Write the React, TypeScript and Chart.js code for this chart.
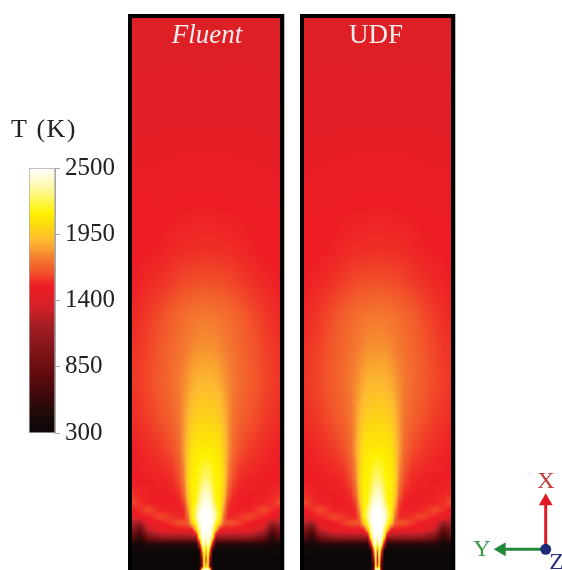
import React, { useEffect, useRef } from "react";
import { Chart, registerables } from "chart.js";

Chart.register(...registerables);

const SERIF = '"Liberation Serif", serif';

// Colour scale
const colorTicks = [300, 850, 1400, 1950, 2500];
const stopT = [300, 494, 770, 1186, 1324, 1400, 1520, 1640, 1750, 1830, 1900, 2020, 2126, 2350, 2500];
const stopRGB = [
  [10, 8, 8], [38, 9, 10], [94, 10, 12], [161, 30, 36], [207, 32, 40], [221, 31, 38], [238, 28, 37],
  [242, 85, 42], [244, 122, 48], [249, 160, 48], [253, 185, 49], [253, 216, 18], [255, 242, 0],
  [255, 249, 176], [255, 255, 255],
];

// Field grid: radial offsets and axial stations
const radial = [0, 2, 4, 7, 10, 14, 18, 22, 27, 34, 44, 58, 66, 74];
const axial = [552, 470, 410, 360, 320, 287, 253, 220, 187, 153, 120, 90, 75, 67, 60, 53, 47, 40, 33, 26, 19, 10, 4, 0];

const fluentT = [
  [1395, 1395, 1395, 1395, 1396, 1397, 1398, 1400, 1400, 1400, 1400, 1400, 1400, 1400],
  [1430, 1430, 1430, 1430, 1430, 1430, 1430, 1430, 1430, 1430, 1430, 1428, 1426, 1425],
  [1482, 1482, 1482, 1482, 1481, 1481, 1480, 1480, 1480, 1478, 1475, 1470, 1467, 1465],
  [1525, 1525, 1525, 1525, 1524, 1524, 1523, 1522, 1521, 1518, 1515, 1510, 1507, 1505],
  [1560, 1560, 1560, 1560, 1558, 1556, 1554, 1552, 1550, 1542, 1530, 1520, 1517, 1515],
  [1630, 1630, 1630, 1628, 1627, 1625, 1620, 1615, 1605, 1590, 1570, 1545, 1535, 1525],
  [1745, 1745, 1745, 1742, 1738, 1730, 1720, 1710, 1695, 1670, 1630, 1585, 1560, 1545],
  [1805, 1805, 1803, 1800, 1795, 1780, 1765, 1745, 1725, 1695, 1655, 1605, 1580, 1565],
  [1900, 1900, 1898, 1895, 1880, 1860, 1820, 1785, 1750, 1710, 1665, 1615, 1590, 1575],
  [2000, 2000, 1996, 1990, 1980, 1960, 1890, 1810, 1730, 1680, 1640, 1590, 1570, 1550],
  [2100, 2100, 2098, 2095, 2085, 2060, 1960, 1830, 1700, 1625, 1585, 1550, 1535, 1525],
  [2280, 2270, 2240, 2170, 2130, 2110, 2000, 1760, 1620, 1550, 1530, 1522, 1520, 1520],
  [2400, 2390, 2360, 2240, 2140, 2105, 1950, 1680, 1550, 1525, 1522, 1525, 1540, 1560],
  [2470, 2460, 2430, 2310, 2170, 2105, 1880, 1600, 1530, 1522, 1522, 1530, 1560, 1620],
  [2500, 2495, 2480, 2400, 2260, 2110, 1800, 1550, 1525, 1525, 1530, 1620, 1560, 1500],
  [2500, 2500, 2495, 2450, 2300, 2100, 1700, 1550, 1540, 1570, 1620, 1530, 1500, 1400],
  [2500, 2500, 2490, 2420, 2200, 1950, 1650, 1640, 1640, 1580, 1520, 1460, 1150, 1250],
  [2500, 2500, 2480, 2300, 1900, 1500, 1500, 1500, 1500, 1490, 1470, 1300, 800, 1000],
  [2400, 2490, 2450, 2100, 1200, 1150, 1150, 1150, 1150, 1150, 1130, 950, 550, 800],
  [2200, 2450, 2300, 1300, 500, 500, 500, 500, 500, 500, 500, 480, 380, 420],
  [1800, 2350, 1700, 330, 325, 325, 325, 325, 325, 325, 325, 325, 325, 330],
  [1500, 2250, 1000, 320, 320, 320, 320, 320, 320, 320, 320, 320, 320, 320],
  [1800, 2150, 900, 320, 320, 320, 320, 320, 320, 320, 320, 320, 320, 320],
  [2500, 2500, 2350, 320, 320, 320, 320, 320, 320, 320, 320, 320, 320, 320],
];
const udfNeckT = [
  [1700, 2300, 1600, 330, 325, 325, 325, 325, 325, 325, 325, 325, 325, 330],
  [1400, 2200, 950, 320, 320, 320, 320, 320, 320, 320, 320, 320, 320, 320],
  [1600, 2100, 700, 320, 320, 320, 320, 320, 320, 320, 320, 320, 320, 320],
  [2500, 2400, 900, 320, 320, 320, 320, 320, 320, 320, 320, 320, 320, 320],
];
const udfT = [...fluentT.slice(0, -4), ...udfNeckT];

// Coordinate triad
const triadXAxis = [{ x: 0, y: 0 }, { x: 0, y: 48 }];
const triadYAxis = [{ x: 0, y: 0 }, { x: -44, y: 0 }];
const triadOrigin = [{ x: 0, y: 0 }];

function tempColor(t: number): number[] {
  if (t <= stopT[0]) return stopRGB[0];
  for (let i = 1; i < stopT.length; i++) {
    if (t <= stopT[i]) {
      const f = (t - stopT[i - 1]) / (stopT[i] - stopT[i - 1]);
      return stopRGB[i].map((c, k) => stopRGB[i - 1][k] + (c - stopRGB[i - 1][k]) * f);
    }
  }
  return stopRGB[stopRGB.length - 1];
}

function fieldPoints(table: number[][]) {
  const cols = [...radial.slice(1).reverse().map((d, i) => ({ x: -d, c: radial.length - 1 - i })), ...radial.map((d, i) => ({ x: d, c: i }))];
  const pts: { x: number; y: number; t: number }[] = [];
  axial.forEach((y, r) => cols.forEach((col) => pts.push({ x: col.x, y, t: table[r][col.c] })));
  return pts;
}

function locate(arr: number[], v: number) {
  let i = 0;
  while (i < arr.length - 2 && arr[i + 1] < v) i++;
  const f = Math.max(0, Math.min(1, (v - arr[i]) / (arr[i + 1] - arr[i])));
  return [i, f];
}

const fieldPlugin = {
  id: "field",
  beforeDatasetsDraw(chart: any) {
    const meta = chart.getDatasetMeta(0);
    const raw = chart.data.datasets[0].data;
    const nx = radial.length * 2 - 1;
    const ny = axial.length;
    const xs: number[] = [];
    const ys: number[] = [];
    for (let i = 0; i < nx; i++) xs.push(meta.data[i].x);
    for (let j = 0; j < ny; j++) ys.push(meta.data[j * nx].y);
    const a = chart.chartArea;
    const x0 = Math.round(a.left), y0 = Math.round(a.top);
    const w = Math.round(a.right - a.left), h = Math.round(a.bottom - a.top);
    const img = chart.ctx.createImageData(w, h);
    for (let py = 0; py < h; py++) {
      const [j, fy] = locate(ys, y0 + py + 0.5);
      for (let px = 0; px < w; px++) {
        const [i, fx] = locate(xs, x0 + px + 0.5);
        const t00 = raw[j * nx + i].t, t10 = raw[j * nx + i + 1].t;
        const t01 = raw[(j + 1) * nx + i].t, t11 = raw[(j + 1) * nx + i + 1].t;
        const t = (t00 * (1 - fx) + t10 * fx) * (1 - fy) + (t01 * (1 - fx) + t11 * fx) * fy;
        const c = tempColor(t);
        const o = (py * w + px) * 4;
        img.data[o] = c[0]; img.data[o + 1] = c[1]; img.data[o + 2] = c[2]; img.data[o + 3] = 255;
      }
    }
    chart.ctx.putImageData(img, x0, y0);
  },
  afterDraw(chart: any) {
    const { ctx, width, height } = chart;
    ctx.save();
    ctx.fillStyle = "#000";
    ctx.fillRect(0, 0, width, 4);
    ctx.fillRect(0, 0, 4, height);
    ctx.fillRect(width - 4, 0, 4, height);
    ctx.restore();
  },
};

const textPlugin = {
  id: "texts",
  afterDraw(chart: any, _a: any, opts: any) {
    const { ctx } = chart;
    ctx.save();
    ctx.textAlign = "center";
    ctx.textBaseline = "middle";
    for (const t of opts.items || []) {
      ctx.font = t.font;
      ctx.fillStyle = t.color;
      ctx.letterSpacing = t.spacing || "0px";
      ctx.fillText(t.text, t.x, t.y);
    }
    ctx.restore();
  },
};

function ChartBox({ left, top, width, height, config, shadow }: any) {
  const ref = useRef<HTMLCanvasElement>(null);
  useEffect(() => {
    const chart = new Chart(ref.current!, config());
    return () => chart.destroy();
  }, []);
  return (
    <canvas
      ref={ref}
      width={width}
      height={height}
      style={{ position: "absolute", left, top, width, height, boxShadow: shadow }}
    />
  );
}

const hiddenLinear = (min: number, max: number) => ({ type: "linear", min, max, display: false });

function panelConfig(table: number[][], text: string, font: string, textX: number) {
  return () => ({
    type: "scatter",
    data: { datasets: [{ label: text, data: fieldPoints(table), pointRadius: 0, showLine: false }] },
    plugins: [fieldPlugin, textPlugin],
    options: {
      responsive: false,
      animation: false,
      layout: { autoPadding: false, padding: { left: 4, right: 4, top: 4, bottom: 0 } },
      scales: { x: hiddenLinear(-74, 74), y: hiddenLinear(0, 552) },
      plugins: {
        legend: { display: false },
        tooltip: { enabled: false },
        texts: { items: [{ text, x: textX, y: 22, font, color: "#fbeeee" }] },
      },
    },
  });
}

function colorbarConfig() {
  return {
    type: "bar",
    data: {
      labels: ["T"],
      datasets: [
        {
          data: [[colorTicks[0], colorTicks[colorTicks.length - 1]]],
          barPercentage: 1,
          categoryPercentage: 1,
          borderColor: "#a8a8a8",
          borderWidth: 1,
          borderSkipped: false,
          backgroundColor: (c: any) => {
            const { chart } = c;
            if (!chart.chartArea) return "#000";
            const y = chart.scales.y;
            const g = chart.ctx.createLinearGradient(0, y.getPixelForValue(300), 0, y.getPixelForValue(2500));
            stopT.forEach((t, i) => {
              const rgb = stopRGB[i];
              g.addColorStop((t - 300) / 2200, `rgb(${rgb[0]},${rgb[1]},${rgb[2]})`);
            });
            return g;
          },
        },
      ],
    },
    plugins: [textPlugin],
    options: {
      responsive: false,
      animation: false,
      layout: { autoPadding: false, padding: { left: 29, top: 58, bottom: 20, right: 0 } },
      scales: {
        x: { display: false, offset: true },
        y: {
          position: "right",
          min: 300,
          max: 2500,
          afterBuildTicks: (s: any) => {
            s.ticks = colorTicks.map((value) => ({ value }));
          },
          afterFit: (s: any) => {
            s.width = 65;
          },
          ticks: { padding: 5, color: "#222", font: { family: "Liberation Serif", size: 25 }, callback: (v: any) => String(v) },
          grid: { drawOnChartArea: false, drawTicks: true, tickLength: 5, color: "#a8a8a8" },
          border: { color: "#a8a8a8" },
        },
      },
      plugins: {
        legend: { display: false },
        tooltip: { enabled: false },
        texts: { items: [{ text: "T (K)", x: 44, y: 20, font: `26px ${SERIF}`, color: "#222", spacing: "1.5px" }] },
      },
    },
  };
}

function triadConfig() {
  const arrow = (label: string, data: any[], color: string, rotation: number) => ({
    label,
    data,
    type: "line",
    borderColor: color,
    backgroundColor: color,
    borderWidth: 3,
    pointBorderWidth: 0,
    pointStyle: "triangle",
    pointRadius: [0, 8],
    pointRotation: rotation,
    clip: false,
  });
  return {
    type: "scatter",
    data: {
      datasets: [
        { label: "Z", data: triadOrigin, backgroundColor: "#1f2a7a", pointRadius: 5.5, pointBorderWidth: 0 },
        arrow("X", triadXAxis, "#e01b24", 0),
        arrow("Y", triadYAxis, "#23893a", -90),
      ],
    },
    plugins: [textPlugin],
    options: {
      responsive: false,
      animation: false,
      layout: { autoPadding: false, padding: 0 },
      scales: { x: hiddenLinear(-85.7, 16.3), y: hiddenLinear(-20.7, 89.3) },
      plugins: {
        legend: { display: false },
        tooltip: { enabled: false },
        texts: {
          items: [
            { text: "X", x: 86, y: 22, font: `24px ${SERIF}`, color: "#c43a3a" },
            { text: "Y", x: 22, y: 90, font: `24px ${SERIF}`, color: "#3a9a4a" },
            { text: "Z", x: 96.5, y: 103, font: `24px ${SERIF}`, color: "#2a3080" },
          ],
        },
      },
    },
  };
}

export default function App() {
  return (
    <div style={{ position: "absolute", left: 0, top: 0, width: 562, height: 570, overflow: "hidden", background: "#fff" }}>
      <ChartBox left={0} top={110} width={120} height={343} config={colorbarConfig} />
      <ChartBox left={128} top={14} width={156} height={556} shadow="1px 0 0 #bbb"
        config={panelConfig(fluentT, "Fluent", `italic 27px ${SERIF}`, 79)} />
      <ChartBox left={300} top={14} width={155} height={556} shadow="1px 0 0 #bbb"
        config={panelConfig(udfT, "UDF", `27px ${SERIF}`, 76)} />
      <ChartBox left={460} top={460} width={102} height={110} config={triadConfig} />
    </div>
  );
}
